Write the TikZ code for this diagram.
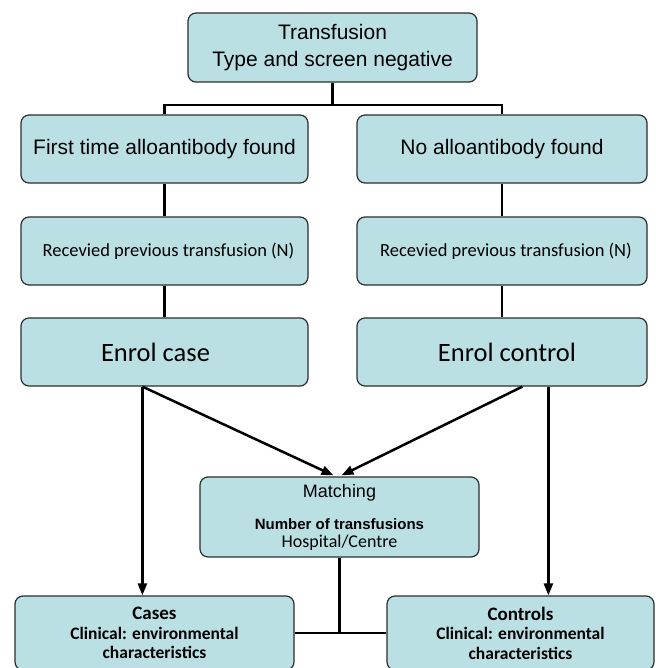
\documentclass[tikz,border=0pt]{standalone}
\usepackage{fontspec}
\newfontfamily\arialf{Liberation Sans}
\newfontfamily\calf{Carlito}
\usetikzlibrary{arrows.meta,calc}
\definecolor{boxfill}{RGB}{187,224,228}
\definecolor{boxline}{RGB}{45,45,45}
\tikzset{
  box/.style={draw=boxline, fill=boxfill, line width=1.2pt, rounded corners=8pt,
    inner sep=0pt, align=center, anchor=center},
  conn/.style={line width=2.5pt, black},
  arr/.style={conn, -{Triangle[length=12pt,width=9pt]}},
}
\begin{document}
\begin{tikzpicture}[x=1pt,y=-1pt]
\useasboundingbox (0,0) rectangle (655,668);
\clip (0,0) rectangle (655,668);
\fill[white] (0,0) rectangle (655,668);

% boxes
\node[box, minimum width=289pt, minimum height=69pt, font=\arialf\fontsize{21}{27}\selectfont]
  (top) at (332.5,47.5) {Transfusion\\Type and screen negative};
\node[box, minimum width=287pt, minimum height=68pt, font=\arialf\fontsize{21}{25}\selectfont]
  (ft) at (164.5,149) {First time alloantibody found};
\node[box, minimum width=290pt, minimum height=68pt, font=\arialf\fontsize{21}{25}\selectfont]
  (no) at (502,149) {No alloantibody found};
\node[box, minimum width=287pt, minimum height=68pt, font=\calf\fontsize{18.5}{22}\selectfont]
  (rl) at (164.5,251) {\hspace*{8pt}Recevied previous transfusion (N)};
\node[box, minimum width=290pt, minimum height=68pt, font=\calf\fontsize{18.5}{22}\selectfont]
  (rr) at (502,251) {\hspace*{8pt}Recevied previous transfusion (N)};
\node[box, minimum width=287pt, minimum height=68pt, font=\calf\fontsize{26.5}{30}\selectfont]
  (ec) at (164.5,352) {Enrol case\hspace*{18pt}};
\node[box, minimum width=290pt, minimum height=68pt, font=\calf\fontsize{26.5}{30}\selectfont]
  (ecr) at (502,352) {\hspace*{10pt}Enrol control};
\node[box, minimum width=279pt, minimum height=80pt, font=\arialf\fontsize{18}{18}\selectfont]
  (match) at (339.5,517) {Matching\\[14pt]{\bfseries\fontsize{15}{18}\selectfont Number of transfusions}\\{\calf\fontsize{18}{18}\selectfont Hospital/Centre}};
\node[box, minimum width=279pt, minimum height=74pt, font=\calf\bfseries\fontsize{17.5}{19.5}\selectfont]
  (cases) at (154.5,633) {{\fontsize{19}{19.5}\selectfont Cases}\\Clinical: environmental\\characteristics};
\node[box, minimum width=267pt, minimum height=74pt, font=\calf\bfseries\fontsize{17.5}{19.5}\selectfont]
  (ctrl) at (520.5,633) {{\fontsize{19}{19.5}\selectfont Controls}\\Clinical: environmental\\characteristics};

% connectors
\coordinate (hub) at (332.5,105);
\draw[conn] (top.south) -- (hub);
\draw[conn] (ft.north) |- (hub) -| (no.north);
\draw[conn] (ft.south) -- (rl.north);
\draw[conn] (no.south) -- (rr.north);
\draw[conn] (rl.south) -- (ec.north);
\draw[conn] (rr.south) -- (ecr.north);

\coordinate (ecs) at ($(ec.south west)+(122,0)$);
\coordinate (ecrd) at ($(ecr.south west)+(166,0)$);
\coordinate (ecrv) at ($(ecr.south west)+(192,0)$);
\coordinate (mL) at ($(match.north)+(-6,-1)$);
\coordinate (mR) at ($(match.north)+(2,-1)$);

\draw[arr] (ecs) -- (ecs |- cases.north);
\draw[arr] (ecs) -- (mL);
\draw[arr] (ecrd) -- (mR);
\draw[arr] (ecrv) -- (ecrv |- ctrl.north);

\draw[conn] (cases.east) -- (ctrl.west);
\draw[conn] (match.south) -- (match.south |- cases.east);
\end{tikzpicture}
\end{document}
